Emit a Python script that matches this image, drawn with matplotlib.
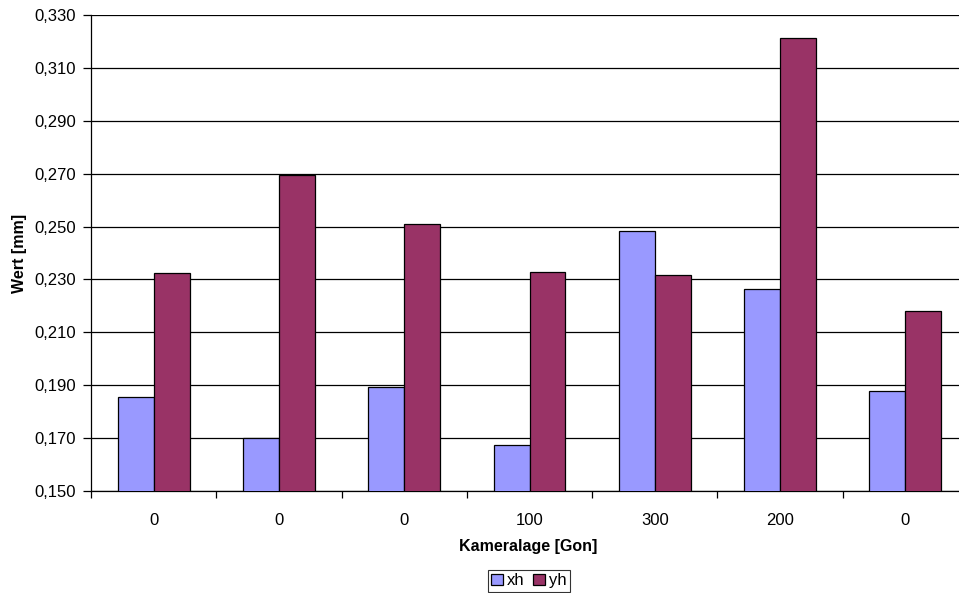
import numpy as np
import matplotlib.pyplot as plt
from matplotlib.ticker import FuncFormatter

plt.rcParams['font.family'] = ['Liberation Sans', 'DejaVu Sans']

categories = ['0', '0', '0', '100', '300', '200', '0']
xh = [0.1854, 0.1702, 0.1892, 0.1675, 0.2484, 0.2263, 0.1877]
yh = [0.2325, 0.2695, 0.2508, 0.2329, 0.2317, 0.3212, 0.2179]
yticks = [0.150, 0.170, 0.190, 0.210, 0.230, 0.250, 0.270, 0.290, 0.310, 0.330]

W, H = 959, 593
fig = plt.figure(figsize=(W / 100, H / 100), dpi=100)
# plot area runs slightly past the right edge of the canvas
ax = fig.add_axes([91 / W, 1 - 491 / H, (968 - 91) / W, (491 - 15) / H])

x = np.arange(len(categories))
bw = 0.287
ax.bar(x - bw / 2, xh, bw, color='#9999FF', edgecolor='black', linewidth=0.9,
       label='xh', zorder=3)
ax.bar(x + bw / 2, yh, bw, color='#993366', edgecolor='black', linewidth=0.9,
       label='yh', zorder=3)

ax.set_xlim(-0.5, len(categories) - 0.5)
ax.set_ylim(yticks[0], yticks[-1])
ax.set_yticks(yticks)
ax.yaxis.set_major_formatter(FuncFormatter(lambda v, p: f'{v:.3f}'.replace('.', ',')))
ax.grid(axis='y', color='black', linewidth=0.9, zorder=0)

# category ticks sit between groups, labels in the middle
ax.set_xticks(np.arange(len(categories) + 1) - 0.5)
ax.set_xticklabels([])
ax.set_xticks(x, minor=True)
ax.set_xticklabels(categories, minor=True)
ax.tick_params(axis='x', which='minor', length=0, pad=16, labelsize=12)
ax.tick_params(axis='x', which='major', length=5, width=0.9, direction='out')
ax.tick_params(axis='y', length=6, width=0.9, direction='out', labelsize=12, pad=5)

for s in ['top', 'right']:
    ax.spines[s].set_visible(False)
for s in ['left', 'bottom']:
    ax.spines[s].set_linewidth(0.9)

ax.set_ylabel('Wert [mm]', fontsize=11.5, fontweight='bold', labelpad=5)
fig.text(528 / W, 1 - 546 / H, 'Kameralage [Gon]', ha='center', va='center',
         fontsize=11.5, fontweight='bold')

leg = fig.legend(loc='upper center', bbox_to_anchor=(529 / W, 1 - 570 / H), ncol=2,
                 fontsize=12, frameon=True, fancybox=False, edgecolor='black',
                 handlelength=0.7, handleheight=0.7, handletextpad=0.25,
                 columnspacing=0.5, borderpad=0.2, borderaxespad=0)
leg.get_frame().set_linewidth(0.8)

fig.savefig('out.png', dpi=100)
